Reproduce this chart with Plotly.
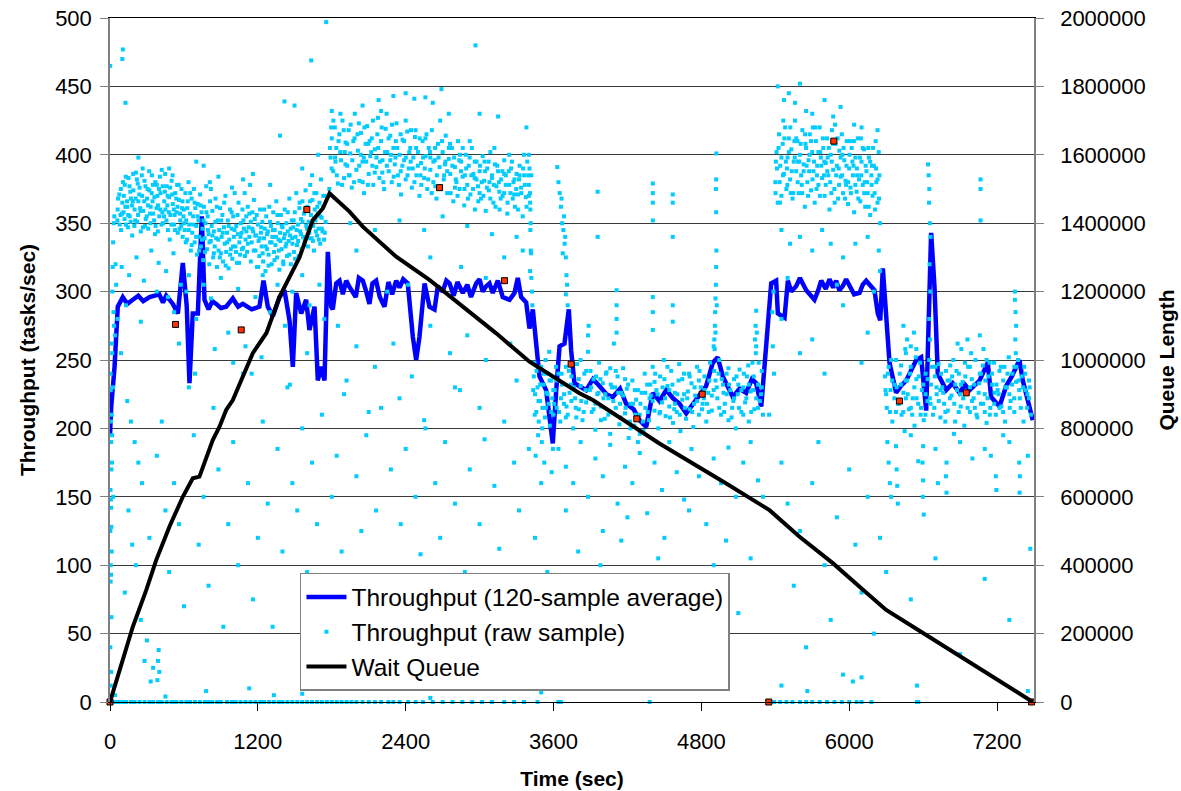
import plotly.graph_objects as go

# ---------------- Wait queue (right axis) ----------------
queue_time = [0, 185, 294, 375, 483, 591, 672, 726, 834, 889, 943, 997, 1159, 1270, 1376, 1538,
              1646, 1727, 1782, 1944, 2052, 2323, 2593, 2864, 3135, 3405, 3675, 3811, 3919, 4460,
              5002, 5353, 5597, 5867, 6084, 6300, 6625, 7031, 7490]
queue_len = [0, 220000, 327000, 415000, 513000, 600000, 654000, 659000, 766000, 805000, 854000,
             883000, 1020000, 1079000, 1185000, 1300000, 1409000, 1443000, 1487000, 1434000,
             1390000, 1302000, 1234000, 1156000, 1078000, 995000, 932000, 903000, 883000, 756000,
             639000, 561000, 483000, 406000, 337000, 269000, 196000, 103000, 0]

# ---------------- 120-sample average throughput (time sec, tasks/sec) ----------------
avg_points = [(0, 195), (10, 216), (37, 245), (63, 289), (104, 296), (140, 291), (185, 294), (230, 297),
              (270, 293), (321, 296), (400, 298), (430, 292), (456, 297), (510, 291), (551, 284),
              (591, 321), (623, 289), (645, 233), (672, 284), (713, 284), (745, 355), (767, 294),
              (800, 287), (830, 293), (862, 291), (900, 288), (943, 289), (997, 295), (1040, 289),
              (1078, 291), (1150, 287), (1213, 289), (1246, 308), (1281, 289), (1322, 282), (1376, 296),
              (1416, 301), (1457, 279), (1484, 245), (1511, 299), (1552, 284), (1592, 294), (1619, 272),
              (1660, 289), (1687, 235), (1714, 245), (1741, 235), (1768, 329), (1795, 289), (1808, 287),
              (1836, 306), (1863, 308), (1890, 298), (1917, 308), (1940, 304), (1971, 299), (1995, 296),
              (2020, 310), (2052, 308), (2080, 300), (2106, 291), (2130, 306), (2160, 308), (2190, 296),
              (2228, 289), (2260, 307), (2290, 298), (2323, 308), (2350, 303), (2380, 309), (2417, 306),
              (2458, 267), (2485, 250), (2512, 267), (2553, 306), (2593, 289), (2634, 287), (2661, 304),
              (2700, 300), (2730, 308), (2756, 306), (2790, 297), (2820, 307), (2864, 299), (2900, 305),
              (2930, 296), (2972, 306), (3000, 309), (3025, 300), (3054, 304), (3080, 306), (3107, 299),
              (3148, 308), (3188, 296), (3243, 294), (3283, 299), (3310, 310), (3337, 296), (3378, 292),
              (3405, 273), (3432, 287), (3459, 262), (3486, 238), (3540, 228), (3594, 189), (3622, 228),
              (3649, 260), (3689, 262), (3724, 287), (3743, 257), (3770, 233), (3865, 228), (3920, 236),
              (3973, 231), (4030, 225), (4081, 223), (4140, 229), (4190, 218), (4250, 214), (4298, 206),
              (4352, 201), (4406, 226), (4460, 220), (4515, 228), (4570, 222), (4623, 218), (4677, 211),
              (4758, 221), (4839, 231), (4893, 248), (4933, 252), (4974, 238), (5020, 230), (5055, 223),
              (5110, 229), (5164, 226), (5210, 236), (5245, 233), (5286, 216), (5313, 245), (5339, 272),
              (5367, 306), (5407, 308), (5421, 284), (5475, 281), (5502, 308), (5530, 300), (5570, 304),
              (5600, 310), (5651, 301), (5690, 297), (5718, 294), (5745, 300), (5773, 308), (5810, 302),
              (5840, 309), (5870, 303), (5894, 308), (5920, 301), (5948, 304), (5975, 309), (6002, 305),
              (6040, 298), (6084, 299), (6110, 305), (6138, 308), (6170, 304), (6205, 301), (6232, 284),
              (6252, 279), (6273, 317), (6295, 289), (6327, 248), (6381, 226), (6420, 231), (6463, 235),
              (6510, 244), (6544, 250), (6584, 252), (6625, 213), (6652, 301), (6665, 343), (6692, 304),
              (6719, 240), (6787, 228), (6840, 233), (6895, 226), (6940, 232), (6977, 228), (7058, 235),
              (7125, 248), (7152, 223), (7220, 216), (7274, 231), (7320, 238), (7355, 245), (7382, 250),
              (7409, 235), (7437, 226), (7490, 206)]

# ---------------- raw samples (time sec, tasks/sec) ----------------
raw_start = [(2, 465), (5, 240), (6, 228), (8, 205), (10, 190), (12, 170), (4, 155), (7, 148), (9, 142),
             (11, 128), (3, 125), (14, 110), (6, 100), (8, 93), (5, 88), (12, 62), (3, 40), (10, 22),
             (7, 12), (15, 262), (18, 255), (20, 300), (22, 318), (25, 336), (30, 350), (35, 355),
             (14, 210), (17, 195), (28, 285), (33, 275), (40, 268), (45, 320), (50, 305), (24, 230),
             (16, 175), (26, 150), (104, 477), (100, 470), (126, 438)]
raw_band_a1 = [(60, 352), (65, 368), (75, 371), (85, 356), (90, 345), (100, 365), (105, 380), (110, 358),
               (120, 378), (125, 362), (130, 349), (140, 362), (145, 347), (150, 383), (160, 355),
               (165, 373), (170, 368), (180, 341), (185, 366), (190, 374), (200, 360), (205, 352),
               (210, 387), (220, 351), (225, 379), (230, 366), (240, 376), (245, 361), (250, 344),
               (260, 370), (265, 390), (270, 359), (280, 381), (285, 348), (290, 353), (300, 368),
               (305, 375), (310, 346), (320, 374), (325, 357), (330, 362), (340, 385), (345, 366),
               (350, 357), (360, 369), (365, 342), (370, 348), (380, 378), (385, 370), (390, 363),
               (400, 355), (405, 384), (410, 372), (420, 389), (425, 358), (430, 350), (440, 366),
               (445, 373), (450, 360), (460, 377), (465, 363), (470, 345), (480, 369), (485, 338),
               (490, 356), (500, 381), (505, 371), (510, 364), (520, 349), (525, 356), (530, 372),
               (540, 358), (545, 378), (550, 343), (560, 367), (565, 346), (570, 352), (580, 375),
               (585, 361), (590, 340), (95, 318), (155, 312), (215, 325), (275, 308), (335, 330),
               (395, 321), (455, 315), (515, 328), (575, 305), (130, 290), (250, 278), (380, 300),
               (470, 296), (520, 285), (560, 262), (230, 398), (480, 390),
               (62, 360), (78, 349), (88, 375), (98, 357), (112, 370), (118, 353), (128, 384), (138, 366),
               (148, 356), (158, 377), (168, 351), (178, 363), (188, 386), (198, 348), (208, 368),
               (218, 382), (228, 356), (238, 371), (248, 359), (258, 385), (268, 347), (278, 366),
               (288, 377), (298, 355), (308, 363), (318, 388), (328, 350), (338, 372), (348, 378),
               (358, 352), (368, 380), (378, 361), (388, 344), (398, 375), (408, 360), (418, 349),
               (428, 377), (438, 355), (448, 386), (458, 352), (468, 370), (478, 358), (488, 376),
               (498, 349), (508, 385), (518, 360), (528, 345), (538, 368), (548, 362), (558, 378),
               (568, 357), (578, 348), (588, 366), (596, 355)]
raw_band_a2 = [(600, 360), (606, 345), (612, 372), (618, 352), (625, 338), (631, 366), (637, 380),
               (643, 349), (650, 357), (656, 330), (662, 368), (668, 343), (675, 355), (681, 375),
               (687, 336), (693, 361), (700, 348), (706, 327), (712, 364), (718, 352), (725, 340),
               (731, 371), (737, 333), (743, 358), (750, 346), (756, 323), (762, 362), (768, 339),
               (775, 350), (781, 377), (787, 331), (793, 355), (800, 342), (806, 320), (812, 366),
               (818, 337), (825, 348), (831, 359), (837, 325), (843, 344), (850, 333), (856, 368),
               (862, 339), (868, 318), (875, 352), (881, 330), (887, 345), (893, 361), (900, 328),
               (906, 340), (912, 356), (918, 322), (925, 347), (931, 335), (937, 370), (943, 329),
               (950, 343), (956, 352), (962, 317), (968, 338), (975, 360), (981, 331), (987, 346),
               (993, 324), (1000, 355), (1006, 340), (1012, 372), (1018, 333), (1025, 348), (1031, 321),
               (1037, 342), (1043, 365), (1050, 336), (1056, 327), (1062, 350), (1068, 343), (1075, 360),
               (1081, 332), (1087, 346), (1093, 372), (1100, 338), (1106, 355), (1112, 329), (1118, 362),
               (1125, 347), (1131, 340), (1137, 378), (1143, 351), (1150, 336), (1156, 358), (1162, 344),
               (1168, 367), (1175, 353), (1181, 330), (1187, 341), (1193, 318), (1200, 349), (1206, 337),
               (1212, 326), (1218, 360), (1225, 343), (1231, 333), (1237, 351), (1243, 322), (1250, 339),
               (1256, 346), (1262, 315), (1268, 355), (1275, 331), (1281, 344), (1287, 327), (1293, 362),
               (1300, 336), (1306, 348), (1312, 320), (1318, 340), (1325, 358), (1331, 329), (1337, 345),
               (1343, 334), (1350, 366), (1356, 325), (1362, 350), (1368, 338), (1375, 316), (1381, 343),
               (1387, 356), (1393, 331), (1400, 347), (1406, 322), (1412, 339), (1418, 360), (1425, 333),
               (1431, 350), (1437, 326), (1443, 344), (1450, 337), (1456, 368), (1462, 341), (1468, 320),
               (1475, 352), (1481, 335), (1487, 347), (1493, 329), (1500, 358), (1506, 340), (1512, 372),
               (1518, 334), (1525, 349), (1531, 326), (1537, 361), (1543, 344), (1550, 353), (1556, 331),
               (1562, 366), (1568, 340), (1575, 357), (1581, 337), (1587, 374), (1593, 348), (1600, 362),
               (1606, 333), (1612, 351), (1618, 343), (1625, 378), (1631, 356), (1637, 339), (1643, 367),
               (1650, 348), (1656, 330), (1662, 360), (1668, 352), (1675, 372), (1681, 341), (1687, 357),
               (1693, 346), (1700, 365), (1706, 335), (1712, 382), (1718, 354), (1725, 344), (1731, 362),
               (1737, 338), (1743, 370), (1750, 351),
               (700, 395), (760, 392), (810, 380), (880, 384), (990, 376), (1080, 382), (1160, 386),
               (1300, 378), (1380, 414), (1416, 439), (1498, 436), (1633, 469), (1640, 385), (1690, 400),
               (1560, 390), (620, 300), (640, 312), (700, 280), (760, 305), (820, 295), (900, 310),
               (960, 270), (1040, 302), (1100, 260), (1180, 296), (1240, 312), (1300, 285), (1360, 305),
               (1420, 275), (1480, 300), (1560, 312), (1620, 290), (1700, 305), (1740, 280), (850, 258),
               (1000, 248), (1150, 240), (1460, 232), (1600, 255), (690, 240), (1230, 252),
               (603, 350), (615, 336), (627, 361), (639, 345), (651, 372), (663, 334), (675, 349),
               (687, 365), (699, 340), (711, 355), (723, 330), (735, 363), (747, 338), (759, 352),
               (771, 329), (783, 358), (795, 345), (807, 336), (819, 375), (831, 341), (843, 328),
               (855, 351), (867, 362), (879, 338), (891, 325), (903, 352), (915, 343), (927, 365),
               (939, 319), (951, 336), (963, 348), (975, 327), (987, 358), (999, 333), (1011, 345),
               (1023, 329), (1035, 356), (1047, 321), (1059, 340), (1071, 331), (1083, 352), (1095, 326),
               (1107, 344), (1119, 335), (1131, 357), (1143, 322), (1155, 346), (1167, 330), (1179, 341),
               (1191, 356), (1203, 318), (1215, 339), (1227, 347), (1239, 328), (1251, 360), (1263, 333),
               (1275, 342), (1287, 319), (1299, 351), (1311, 336), (1323, 345), (1335, 323), (1347, 340),
               (1359, 356), (1371, 330), (1383, 337), (1395, 348), (1407, 320), (1419, 342), (1431, 335),
               (1443, 358), (1455, 327), (1467, 346), (1479, 339), (1491, 352), (1503, 324), (1515, 345),
               (1527, 337), (1539, 365), (1551, 342), (1563, 351), (1575, 334), (1587, 360), (1599, 346),
               (1611, 339), (1623, 366), (1635, 350), (1647, 337), (1659, 372), (1671, 344), (1683, 362),
               (1695, 338), (1707, 355), (1719, 346), (1731, 370), (1743, 343)]
raw_band_b = [(1780, 375), (1790, 398), (1800, 412), (1812, 388), (1825, 420), (1837, 405), (1850, 379),
              (1862, 415), (1875, 396), (1887, 425), (1900, 383), (1912, 409), (1925, 392), (1937, 418),
              (1950, 401), (1962, 376), (1975, 410), (1987, 430), (2000, 389), (2012, 403), (2025, 381),
              (2037, 416), (2050, 395), (2062, 372), (2075, 408), (2087, 421), (2100, 386), (2112, 399),
              (2125, 412), (2137, 378), (2150, 404), (2162, 391), (2175, 427), (2187, 383), (2200, 410),
              (2212, 396), (2225, 375), (2237, 419), (2250, 402), (2262, 388), (2275, 414), (2287, 380),
              (2300, 405), (2312, 393), (2325, 423), (2337, 385), (2350, 400), (2362, 371), (2375, 411),
              (2387, 396), (2400, 382), (2412, 417), (2425, 390), (2437, 405), (2450, 376), (2462, 398),
              (2475, 413), (2487, 385), (2500, 402), (2512, 370), (2525, 394), (2537, 410), (2550, 383),
              (2562, 399), (2575, 375), (2587, 405), (2600, 389), (2612, 418), (2625, 380), (2637, 396),
              (2650, 368), (2662, 408), (2675, 391), (2687, 377), (2700, 402), (2712, 385), (2725, 414),
              (2737, 372), (2750, 397), (2762, 386), (2775, 405), (2787, 366), (2800, 391), (2812, 380),
              (2825, 410), (2837, 375), (2850, 395), (2862, 384), (2875, 363), (2887, 400), (2900, 378),
              (2912, 392), (2925, 371), (2937, 405), (2950, 386), (2962, 360), (2975, 395), (2987, 377),
              (3000, 388), (3012, 368), (3025, 399), (3037, 381), (3050, 359), (3062, 390), (3075, 374),
              (3087, 402), (3100, 383), (3112, 365), (3125, 393), (3137, 377), (3150, 388), (3162, 360),
              (3175, 382), (3187, 370), (3200, 396), (3212, 378), (3225, 357), (3237, 388), (3250, 372),
              (3262, 395), (3275, 380), (3287, 362), (3300, 386), (3312, 371), (3325, 392), (3337, 376),
              (3350, 355), (3362, 385), (3375, 369), (3387, 395), (3400, 378), (3412, 360), (3420, 385),
              (1795, 420), (1830, 395), (1870, 430), (1905, 402), (1945, 385), (1985, 412), (2020, 423),
              (2060, 398), (2095, 408), (2130, 392), (2170, 415), (2210, 387), (2245, 430), (2280, 400),
              (2320, 410), (2360, 388), (2400, 425), (2440, 395), (2480, 418), (2520, 385), (2560, 412),
              (2600, 398), (2640, 377), (2680, 425), (2720, 393), (2760, 408), (2800, 376), (2840, 400),
              (2880, 385), (2920, 410), (2960, 383), (3000, 372), (3040, 395), (3080, 380), (3120, 405),
              (3160, 373), (3200, 386), (3240, 400), (3280, 371), (3320, 382), (3360, 400), (3400, 370),
              (3415, 350), (1755, 497), (2967, 480), (2180, 440), (2300, 443), (2400, 445), (2560, 442),
              (2690, 448), (1800, 432), (2050, 436), (2200, 432), (2470, 441), (2620, 438), (2750, 430),
              (3000, 430), (3150, 428), (3380, 420), (1950, 350), (2150, 345), (2350, 352), (2550, 345),
              (2700, 355), (2900, 348), (3100, 342), (3300, 340), (3350, 330), (3410, 315), (3415, 330),
              (2000, 330), (2600, 325), (2850, 318), (3200, 325), (2420, 305), (3050, 310), (2250, 300),
              (1850, 275), (2000, 260), (2150, 245), (2300, 262), (2450, 238), (2600, 275), (2760, 255),
              (2900, 268), (3050, 250), (3250, 262), (1900, 225), (2100, 212), (2350, 222), (2550, 206),
              (2800, 230), (3000, 215), (3300, 235), (3400, 400), (3405, 390), (3410, 365), (3412, 345),
              (3418, 328), (3420, 310), (3425, 300), (3428, 290),
              (1785, 405), (1799, 390), (1813, 425), (1827, 398), (1841, 385), (1855, 410), (1869, 402),
              (1883, 378), (1897, 418), (1911, 393), (1925, 408), (1939, 385), (1953, 422), (1967, 396),
              (1981, 380), (2009, 415), (2023, 392), (2037, 400), (2051, 380), (2065, 420), (2079, 395),
              (2093, 378), (2107, 410), (2121, 402), (2135, 425), (2149, 387), (2163, 398), (2177, 405),
              (2191, 395), (2205, 420), (2219, 380), (2233, 402), (2247, 392), (2261, 412), (2275, 396),
              (2289, 422), (2303, 384), (2317, 398), (2331, 405), (2345, 378), (2359, 415), (2373, 392),
              (2387, 410), (2401, 398), (2415, 385), (2429, 402), (2443, 418), (2457, 390), (2471, 380),
              (2485, 405), (2499, 392), (2513, 412), (2527, 378), (2541, 398), (2555, 390), (2569, 415),
              (2583, 382), (2597, 402), (2611, 372), (2625, 395), (2639, 405), (2653, 385), (2667, 398),
              (2681, 375), (2695, 410), (2709, 382), (2723, 395), (2737, 388), (2751, 405), (2765, 372),
              (2779, 392), (2793, 398), (2807, 382), (2821, 370), (2835, 396), (2849, 388), (2863, 405),
              (2877, 375), (2891, 390), (2905, 368), (2919, 398), (2933, 385), (2947, 375), (2961, 395),
              (2975, 382), (2989, 366), (3003, 392), (3017, 380), (3031, 370), (3045, 388), (3059, 376),
              (3073, 395), (3087, 368), (3101, 385), (3115, 378), (3129, 362), (3143, 392), (3157, 380),
              (3171, 368), (3185, 388), (3199, 372), (3213, 385), (3227, 365), (3241, 378), (3255, 390),
              (3269, 368), (3283, 382), (3297, 375), (3311, 360), (3325, 385), (3339, 372), (3353, 390),
              (3367, 378), (3381, 362), (3395, 385), (3409, 372)]
raw_band_c = [(3440, 238), (3450, 225), (3460, 212), (3470, 230), (3480, 205), (3490, 220), (3500, 245),
              (3510, 215), (3520, 232), (3530, 208), (3540, 226), (3550, 240), (3560, 218), (3570, 202),
              (3580, 235), (3590, 222), (3600, 210), (3445, 248), (3475, 195), (3505, 190), (3535, 250),
              (3565, 256), (3595, 185), (3455, 180), (3525, 175), (3585, 168), (3630, 391), (3640, 380),
              (3650, 372), (3660, 362), (3670, 350), (3680, 345), (3690, 335), (3700, 325), (3705, 312),
              (3710, 305), (3700, 298), (3665, 368), (3685, 355), (3695, 340), (3675, 328), (3715, 290),
              (3435, 228), (3448, 210), (3462, 242), (3478, 220), (3492, 232), (3508, 200), (3522, 240),
              (3538, 215), (3552, 225), (3568, 235), (3582, 212), (3598, 228)]
raw_band_d = [(3610, 228), (3625, 215), (3640, 240), (3655, 205), (3670, 232), (3685, 218), (3700, 245),
              (3715, 210), (3730, 226), (3745, 238), (3760, 200), (3775, 222), (3790, 247), (3805, 214),
              (3820, 231), (3835, 206), (3850, 240), (3865, 219), (3880, 256), (3895, 228), (3910, 212),
              (3925, 236), (3940, 199), (3955, 225), (3970, 248), (3985, 216), (4000, 233), (4015, 207),
              (4030, 241), (4045, 222), (4060, 196), (4075, 230), (4090, 262), (4105, 215), (4120, 238),
              (4135, 203), (4150, 226), (4165, 244), (4180, 211), (4195, 229), (4210, 193), (4225, 218),
              (4240, 235), (4255, 202), (4270, 221), (4285, 190), (4300, 210), (4315, 226), (4330, 198),
              (4345, 215), (4360, 232), (4375, 206), (4390, 224), (4405, 245), (4420, 213), (4435, 228),
              (4450, 200), (4465, 238), (4480, 219), (4495, 250), (4510, 209), (4525, 231), (4540, 216),
              (4555, 242), (4570, 204), (4585, 226), (4600, 212), (4615, 235), (4630, 198), (4645, 221),
              (4660, 240), (4675, 207), (4690, 227), (4705, 214), (4720, 233), (4735, 201), (4750, 224),
              (4765, 245), (4780, 210), (4795, 230), (4810, 218), (4825, 238), (4840, 205), (4855, 226),
              (4870, 248), (4885, 213), (4900, 260), (4915, 235), (4930, 222), (4945, 250), (4960, 210),
              (4975, 232), (4990, 218), (5005, 240), (5020, 206), (5035, 228), (5050, 215), (5065, 236),
              (5080, 200), (5095, 225), (5110, 243), (5125, 212), (5140, 230), (5155, 219), (5170, 238),
              (5185, 205), (5200, 227), (5215, 248), (5230, 214), (5245, 260), (5260, 232), (5275, 220),
              (5290, 242), (5300, 210),
              (3620, 245), (3660, 222), (3700, 208), (3740, 232), (3780, 215), (3820, 250), (3860, 228),
              (3900, 242), (3940, 218), (3980, 236), (4020, 225), (4060, 244), (4100, 230), (4140, 218),
              (4180, 236), (4220, 205), (4260, 228), (4300, 196), (4340, 240), (4380, 222), (4420, 234),
              (4460, 211), (4500, 236), (4540, 228), (4580, 214), (4620, 247), (4660, 225), (4700, 240),
              (4740, 218), (4780, 235), (4820, 222), (4860, 212), (4900, 228), (4940, 240), (4980, 226),
              (5020, 244), (5060, 220), (5100, 232), (5140, 210), (5180, 246), (5220, 228), (5260, 215),
              (5290, 230),
              (3605, 218), (3625, 235), (3645, 212), (3665, 240), (3685, 225), (3705, 216), (3725, 242),
              (3745, 220), (3765, 230), (3785, 208), (3805, 236), (3825, 220), (3845, 212), (3865, 242),
              (3885, 222), (3905, 230), (3925, 214), (3945, 238), (3965, 226), (3985, 206), (4005, 222),
              (4025, 240), (4045, 210), (4065, 232), (4085, 220), (4105, 242), (4125, 226), (4145, 208),
              (4165, 224), (4185, 215), (4205, 232), (4225, 200), (4245, 218), (4265, 210), (4285, 228),
              (4305, 218), (4325, 205), (4345, 226), (4365, 212), (4385, 232), (4405, 220), (4425, 240),
              (4445, 225), (4465, 212), (4485, 230), (4505, 222), (4525, 245), (4545, 208), (4565, 232),
              (4585, 218), (4605, 225), (4625, 210), (4645, 236), (4665, 215), (4685, 222), (4705, 238),
              (4725, 212), (4745, 230), (4765, 220), (4785, 242), (4805, 214), (4825, 228), (4845, 218),
              (4865, 235), (4885, 224), (4905, 242), (4925, 230), (4945, 215), (4965, 236), (4985, 212),
              (5005, 225), (5025, 232), (5045, 208), (5065, 222), (5085, 238), (5105, 215), (5125, 228),
              (5145, 240), (5165, 222), (5185, 232), (5205, 212), (5225, 238), (5245, 222), (5265, 248),
              (5285, 225),
              (3880, 268), (3885, 275), (3958, 373), (3958, 340), (4112, 301), (4112, 290), (4112, 280),
              (4112, 270), (4406, 379), (4406, 372), (4406, 365), (4406, 352), (4406, 296), (4406, 285),
              (4406, 272), (4568, 371), (4568, 365), (4568, 340), (4568, 290), (4568, 278),
              (4905, 265), (4910, 275), (4912, 285), (4915, 295), (4918, 305), (4920, 318), (4922, 330),
              (4920, 358), (4918, 375), (4920, 382), (4922, 401), (4925, 290), (4915, 270), (4908, 258),
              (5235, 265), (5240, 275), (5245, 286), (5250, 270), (5242, 255),
              (3640, 185), (3700, 172), (3760, 160), (3820, 190), (3880, 150), (3940, 178), (4000, 165),
              (4060, 188), (4120, 145), (4180, 172), (4240, 160), (4300, 182), (4360, 138), (4420, 175),
              (4480, 155), (4540, 190), (4600, 168), (4660, 148), (4720, 185), (4780, 165), (4840, 130),
              (4900, 178), (4960, 160), (5020, 186), (5080, 150), (5140, 175), (5200, 190), (5260, 162),
              (4150, 118), (4450, 105), (3980, 100), (4870, 92), (4630, 85)]
raw_band_e = [(5400, 380), (5410, 402), (5420, 365), (5430, 415), (5440, 392), (5450, 370), (5460, 408),
              (5470, 386), (5480, 420), (5490, 375), (5500, 398), (5510, 412), (5520, 382), (5530, 404),
              (5540, 368), (5550, 395), (5560, 425), (5570, 388), (5580, 410), (5590, 372), (5600, 400),
              (5610, 385), (5620, 418), (5630, 393), (5640, 362), (5650, 405), (5660, 380), (5670, 396),
              (5680, 415), (5690, 374), (5700, 402), (5710, 388), (5720, 365), (5730, 410), (5740, 392),
              (5750, 378), (5760, 420), (5770, 398), (5780, 383), (5790, 405), (5800, 370), (5810, 394),
              (5820, 412), (5830, 385), (5840, 360), (5850, 400), (5860, 418), (5870, 389), (5880, 375),
              (5890, 408), (5900, 392), (5910, 368), (5920, 403), (5930, 384), (5940, 415), (5950, 372),
              (5960, 396), (5970, 381), (5980, 410), (5990, 364), (6000, 390), (6010, 376), (6020, 405),
              (6030, 385), (6040, 358), (6050, 398), (6060, 373), (6070, 412), (6080, 382), (6090, 366),
              (6100, 395), (6110, 378), (6120, 404), (6130, 362), (6140, 388), (6150, 372), (6160, 398),
              (6170, 356), (6180, 385), (6190, 370), (6200, 392), (6210, 360), (6220, 380), (6230, 365),
              (6240, 402), (6250, 350),
              (5405, 395), (5435, 380), (5465, 425), (5495, 390), (5525, 372), (5555, 410), (5585, 395),
              (5615, 378), (5645, 408), (5675, 388), (5705, 420), (5735, 375), (5765, 402), (5795, 385),
              (5825, 398), (5855, 372), (5885, 422), (5915, 390), (5945, 400), (5975, 378), (6005, 410),
              (6035, 392), (6065, 385), (6095, 412), (6125, 380), (6155, 405), (6185, 392), (6215, 410),
              (6245, 385),
              (5420, 450), (5470, 440), (5510, 445), (5560, 438), (5600, 452), (5650, 432), (5700, 430),
              (5800, 440), (5870, 428), (5930, 435), (6040, 422), (6100, 420), (6230, 418), (5450, 345),
              (5520, 335), (5600, 340), (5700, 330), (5780, 345), (5850, 335), (5950, 325), (6050, 335),
              (6150, 340), (6240, 330), (6250, 315), (5500, 310), (5900, 305), (6200, 300), (5450, 280),
              (5700, 265), (5950, 290), (6150, 270), (5600, 255), (5800, 240), (6100, 248), (5380, 260),
              (5385, 300), (5390, 240), (5375, 285),
              (5402, 372), (5414, 390), (5426, 405), (5438, 365), (5450, 398), (5462, 385), (5474, 412),
              (5486, 395), (5498, 378), (5510, 402), (5522, 420), (5534, 388), (5546, 372), (5558, 398),
              (5570, 412), (5582, 380), (5594, 395), (5606, 408), (5618, 372), (5630, 388), (5642, 415),
              (5654, 392), (5666, 370), (5678, 400), (5690, 410), (5702, 382), (5714, 395), (5726, 420),
              (5738, 385), (5750, 402), (5762, 370), (5774, 392), (5786, 412), (5798, 395), (5810, 378),
              (5822, 388), (5834, 405), (5846, 380), (5858, 395), (5870, 408), (5882, 365), (5894, 385),
              (5906, 412), (5918, 378), (5930, 398), (5942, 385), (5954, 405), (5966, 368), (5978, 392),
              (5990, 380), (6002, 400), (6014, 372), (6026, 395), (6038, 410), (6050, 378), (6062, 390),
              (6074, 368), (6086, 398), (6098, 385), (6110, 405), (6122, 372), (6134, 392), (6146, 380),
              (6158, 362), (6170, 395), (6182, 378), (6194, 405), (6206, 372), (6218, 390), (6230, 382),
              (6242, 368)]
raw_band_f = [(6290, 238), (6305, 215), (6320, 245), (6335, 228), (6350, 205), (6365, 232), (6380, 250),
              (6395, 218), (6410, 240), (6425, 210), (6440, 226), (6455, 258), (6470, 235), (6485, 214),
              (6500, 245), (6515, 222), (6530, 202), (6545, 236), (6560, 218), (6575, 248), (6590, 228),
              (6605, 206), (6620, 240), (6635, 220), (6650, 250), (6665, 232), (6680, 210), (6695, 238),
              (6710, 225), (6725, 247), (6740, 208), (6755, 230), (6770, 218), (6785, 242), (6800, 213),
              (6815, 235), (6830, 224), (6845, 250), (6860, 205), (6875, 228), (6890, 240), (6905, 216),
              (6920, 234), (6935, 202), (6950, 226), (6965, 245), (6980, 212), (6995, 236), (7010, 222),
              (7025, 250), (7040, 208), (7055, 233), (7070, 218), (7085, 246), (7100, 225), (7115, 204),
              (7130, 238), (7145, 215), (7160, 232), (7175, 248), (7190, 210), (7205, 228), (7220, 242),
              (7235, 216), (7250, 235), (7265, 205), (7280, 230), (7295, 252), (7310, 220), (7325, 240),
              (7340, 212), (7355, 234), (7370, 250), (7385, 222), (7400, 238), (7415, 205), (7430, 228),
              (7445, 215), (7460, 235), (7475, 210),
              (6300, 225), (6340, 250), (6380, 212), (6420, 232), (6460, 222), (6500, 215), (6540, 252),
              (6580, 210), (6620, 225), (6660, 218), (6700, 245), (6740, 228), (6780, 205), (6820, 246),
              (6860, 232), (6900, 225), (6940, 248), (6980, 230), (7020, 215), (7060, 240), (7100, 212),
              (7140, 248), (7180, 226), (7220, 215), (7260, 245), (7300, 225), (7340, 245), (7380, 228),
              (7420, 245), (7460, 222),
              (6295, 228), (6313, 240), (6331, 212), (6349, 235), (6367, 222), (6385, 230), (6403, 218),
              (6421, 246), (6439, 212), (6457, 235), (6475, 225), (6493, 240), (6511, 210), (6529, 230),
              (6547, 222), (6565, 238), (6583, 215), (6601, 232), (6619, 210), (6637, 236), (6655, 222),
              (6673, 245), (6691, 215), (6709, 230), (6727, 220), (6745, 240), (6763, 226), (6781, 212),
              (6799, 235), (6817, 222), (6835, 238), (6853, 218), (6871, 242), (6889, 212), (6907, 232),
              (6925, 222), (6943, 238), (6961, 215), (6979, 245), (6997, 220), (7015, 232), (7033, 210),
              (7051, 226), (7069, 240), (7087, 218), (7105, 235), (7123, 222), (7141, 210), (7159, 240),
              (7177, 218), (7195, 232), (7213, 225), (7231, 245), (7249, 212), (7267, 230), (7285, 240),
              (7303, 215), (7321, 232), (7339, 222), (7357, 245), (7375, 235), (7393, 215), (7411, 230),
              (7429, 240), (7447, 225), (7465, 230),
              (6640, 393), (6645, 385), (6650, 375), (6648, 365), (6655, 350), (6660, 340), (6652, 320),
              (6658, 300), (6650, 280), (6655, 265), (7066, 382), (7066, 375), (7066, 352), (7345, 294),
              (7350, 285), (7355, 275), (7348, 265), (7352, 255), (7345, 300), (6440, 275), (6470, 265),
              (6500, 260), (6525, 270), (6460, 255), (6545, 258), (6880, 262), (6910, 258), (6960, 265),
              (6990, 255), (7060, 268), (7090, 258), (7115, 250),
              (6310, 190), (6320, 175), (6330, 160), (6340, 150), (6380, 187), (6385, 170), (6390, 158),
              (6395, 145), (6600, 187), (6595, 175), (6600, 162), (6598, 150), (6605, 137), (6790, 175),
              (6785, 165), (6790, 153), (7190, 165), (7195, 155), (7380, 175), (7385, 165), (7383, 153),
              (6500, 195), (6700, 185), (6900, 190), (7000, 178), (7100, 185), (7300, 190), (7450, 180),
              (6450, 198), (6850, 196), (7250, 195), (6560, 176), (7150, 180), (6720, 160)]
raw_sparse = [(60, 280), (90, 255), (140, 220), (170, 205), (200, 190), (230, 175), (260, 160), (150, 140),
              (180, 115), (210, 100), (120, 80), (250, 60), (300, 45), (280, 30), (330, 15), (350, 25),
              (320, 120), (380, 180), (420, 205), (450, 140), (480, 95), (520, 160), (560, 130), (600, 70),
              (640, 230), (680, 195), (720, 115), (760, 150), (800, 85), (840, 215), (880, 170), (920, 55),
              (960, 130), (1000, 190), (1040, 100), (1080, 240), (1120, 160), (1160, 75), (1200, 120),
              (1240, 205), (1280, 145), (1320, 55), (1360, 185), (1400, 110), (1440, 230), (1480, 160),
              (1520, 140), (1560, 200), (1600, 95), (1640, 175), (1680, 130), (1720, 210), (1760, 65),
              (1800, 150), (1840, 180), (1880, 110), (1920, 235), (1960, 70), (2000, 165), (2040, 125),
              (2080, 195), (2120, 50), (2160, 140), (2200, 215), (2240, 90), (2280, 170), (2320, 20),
              (2360, 130), (2400, 185), (2440, 65), (2480, 150), (2520, 108), (2560, 200), (2600, 40),
              (2640, 160), (2680, 120), (2720, 190), (2760, 75), (2800, 145), (2840, 228), (2880, 95),
              (2920, 170), (2960, 35), (3000, 130), (3040, 192), (3080, 62), (3120, 158), (3160, 112),
              (3200, 205), (3240, 80), (3280, 175), (3320, 140), (3360, 55), (3400, 185), (3450, 120),
              (3500, 160), (3550, 95), (3600, 75), (3700, 140), (3800, 110), (3900, 60), (4000, 125),
              (4200, 135), (4300, 45), (4500, 120), (4600, 70), (4700, 140), (4800, 30), (4900, 100),
              (5000, 118), (5100, 65), (5200, 105), (5300, 150), (5350, 210), (5450, 175), (5500, 145),
              (5550, 85), (5600, 125), (5650, 40), (5700, 160), (5750, 190), (5800, 100), (5850, 60),
              (5900, 135), (5950, 20), (6000, 170), (6050, 115), (6100, 80), (6150, 150), (6200, 50),
              (6250, 120), (6300, 95), (6500, 75), (6700, 105), (6900, 35), (7100, 90), (7300, 60),
              (7470, 112), (395, 38), (390, 30), (400, 22), (385, 16), (40, 5), (450, 4), (780, 8),
              (1130, 10), (1330, 5), (1560, 6), (2600, 3), (3500, 7), (5450, 12), (6100, 18), (6030, 15),
              (6550, 12), (7450, 8), (2780, 12), (5660, 8)]
raw_zero_time = [40, 70, 100, 130, 170, 200, 240, 280, 320, 350, 390, 420, 460, 500, 520, 540, 580, 620,
                 650, 690, 730, 770, 800, 830, 870, 900, 950, 990, 1020, 1060, 1100, 1140, 1180, 1220,
                 1250, 1290, 1330, 1370, 1400, 1440, 1480, 1520, 1560, 1600, 1640, 1680, 1720, 1760,
                 1800, 1840, 1880, 1920, 1960, 2000, 2050, 2100, 2150, 2200, 2260, 2300, 2350, 2420,
                 2480, 2540, 2620, 2700, 2780, 2860, 2940, 3020, 3100, 3200, 3280, 3360, 3470, 3640,
                 3660, 4380, 5390, 5440, 5490, 5540, 5600, 5650, 5700, 5760, 5820, 5880, 5940, 6000,
                 6060, 6100, 6180, 6550, 6560, 7470]

# highlighted sample markers (red squares)
mark_time = [0, 532, 1065, 1598, 2675, 3202, 3743, 4276, 4807, 5347, 5875, 6408, 6950, 7480]
mark_tp = [0, 276, 272, 360, 376, 308, 247, 207, 225, 0, 410, 220, 226, 0]

avg_time = [p[0] for p in avg_points]
avg_tp = [p[1] for p in avg_points]
raw_pairs = raw_start + raw_band_a1 + raw_band_a2 + raw_band_b + raw_band_c + raw_band_d + \
    raw_band_e + raw_band_f + raw_sparse + [(t, 0) for t in raw_zero_time]
raw_time = [p[0] for p in raw_pairs]
raw_tp = [p[1] for p in raw_pairs]

FONT = "Arial, 'Liberation Sans', sans-serif"

fig = go.Figure()
fig.add_trace(go.Scatter(x=avg_time, y=avg_tp, mode="lines", name="Throughput (120-sample average)",
                         line=dict(color="#0000FF", width=4.5)))
fig.add_trace(go.Scatter(x=raw_time, y=raw_tp, mode="markers", name="Throughput (raw sample)",
                         marker=dict(color="#00CCFF", size=4, symbol="square", line=dict(width=0)),
                         cliponaxis=False))
fig.add_trace(go.Scatter(x=queue_time, y=queue_len, mode="lines", name="Wait Queue", yaxis="y2",
                         line=dict(color="#000000", width=4)))
fig.add_trace(go.Scatter(x=mark_time, y=mark_tp, mode="markers", showlegend=False, cliponaxis=False,
                         marker=dict(color="#FF3300", size=6, symbol="square",
                                     line=dict(color="#000000", width=1))))

fig.update_layout(
    width=1181, height=791,
    margin=dict(l=110, r=147, t=18, b=89),
    paper_bgcolor="white", plot_bgcolor="white",
    font=dict(family=FONT, size=22, color="#000000"),
    showlegend=True,
    legend=dict(x=0.2056, y=0.1886, xanchor="left", yanchor="top",
                bgcolor="white", bordercolor="#808080", borderwidth=1.5,
                font=dict(family=FONT, size=24.5), tracegroupgap=0, itemwidth=40),
    xaxis=dict(range=[0, 7500], tickvals=[0, 1200, 2400, 3600, 4800, 6000, 7200],
               showgrid=False, zeroline=False, showline=True, mirror=True,
               linecolor="#000000", linewidth=1,
               ticks="outside", ticklen=8, tickcolor="#000000", ticklabelstandoff=12,
               title=dict(text="<b>Time (sec)</b>", font=dict(family=FONT, size=21), standoff=17),
               automargin=False),
    yaxis=dict(range=[0, 500], dtick=50, showgrid=True, gridcolor="#3a3a3a", gridwidth=1,
               zeroline=False, showline=True, linecolor="#808080", linewidth=1.5,
               ticks="outside", ticklen=8, tickcolor="#808080", ticklabelstandoff=4,
               ticklabeloverflow="allow",
               title=dict(text="<b>Throughput (tasks/sec)</b>", font=dict(family=FONT, size=21),
                          standoff=14),
               automargin=False),
    yaxis2=dict(range=[0, 2000000], dtick=200000, overlaying="y", side="right", tickformat="d",
                showgrid=False, zeroline=False, showline=True, linecolor="#808080", linewidth=1.5,
                ticks="outside", ticklen=8, tickcolor="#808080", ticklabelstandoff=12,
                ticklabeloverflow="allow",
                title=dict(text="<b>Queue Length</b>", font=dict(family=FONT, size=21), standoff=14),
                automargin=False),
)

# remove the page's default body margin so the figure sits at the window's top-left corner
fig.write_html("out.html", config={"displayModeBar": False},
               post_script="document.body.style.margin='0';")
